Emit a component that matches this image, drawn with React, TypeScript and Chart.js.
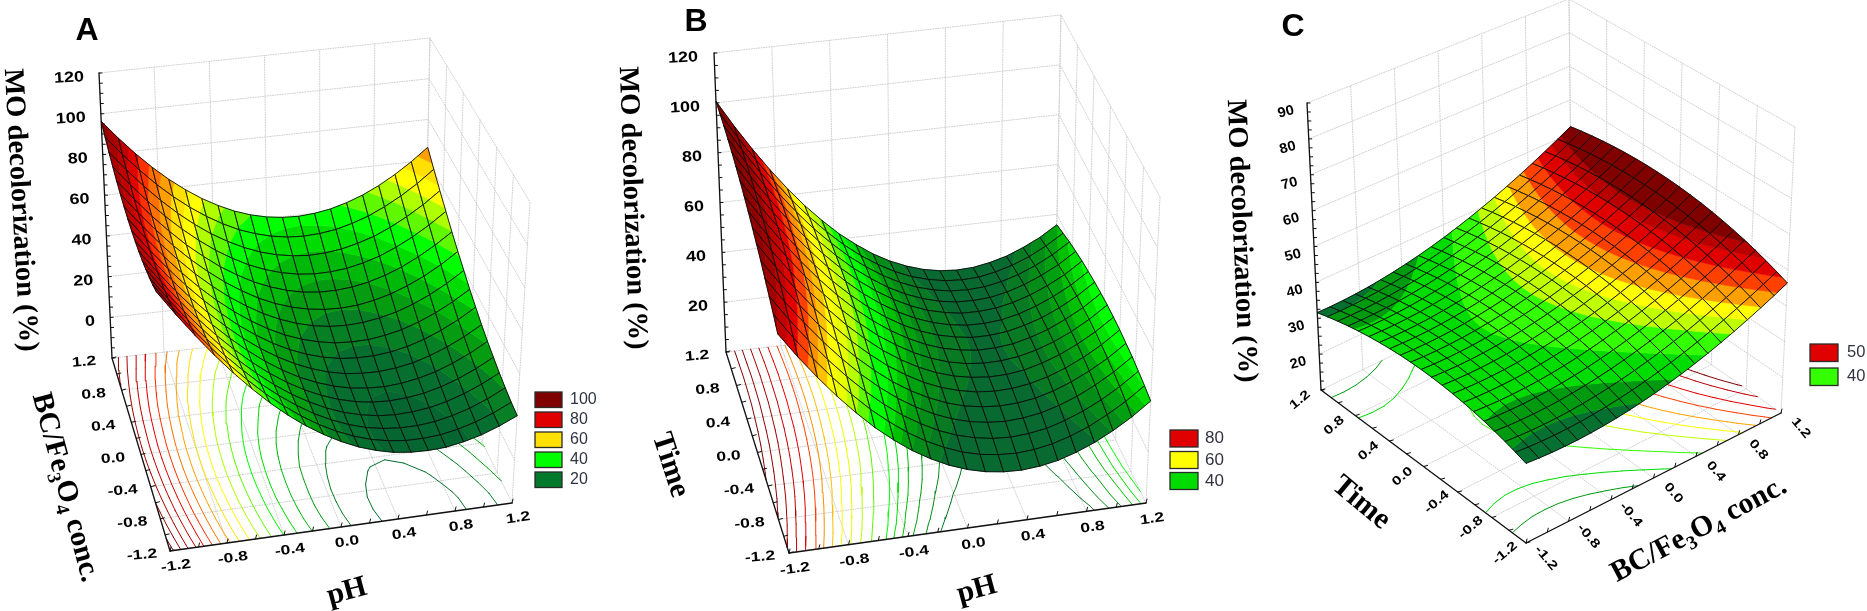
import React, { useEffect, useRef } from "react";
import { Chart, registerables } from "chart.js";

Chart.register(...registerables);

const W = 1867;
const H = 611;

// ---------- data ----------
const xValuesAB = [-1.2, -1.08, -0.96, -0.84, -0.72, -0.6, -0.48, -0.36, -0.24, -0.12, 0, 0.12, 0.24, 0.36, 0.48, 0.6, 0.72, 0.84, 0.96, 1.08, 1.2];
const yValuesAB = [-1.2, -1.04, -0.88, -0.72, -0.56, -0.4, -0.24, -0.08, 0.08, 0.24, 0.4, 0.56, 0.72, 0.88, 1.04, 1.2];
const xValuesC = [-1.2, -1.08, -0.96, -0.84, -0.72, -0.6, -0.48, -0.36, -0.24, -0.12, 0, 0.12, 0.24, 0.36, 0.48, 0.6, 0.72, 0.84, 0.96, 1.08, 1.2];
const yValuesC = [-1.2, -1.08, -0.96, -0.84, -0.72, -0.6, -0.48, -0.36, -0.24, -0.12, 0, 0.12, 0.24, 0.36, 0.48, 0.6, 0.72, 0.84, 0.96, 1.08, 1.2];

const decolorizationA = [
  [99.8, 88.1, 77.3, 67.2, 58, 49.6, 41.9, 35.1, 29.1, 24, 19.6, 16, 13.3, 11.3, 10.3, 10, 10.4, 11.8, 13.9, 16.9, 20.6],
  [97.4, 85.9, 75.2, 65.3, 56.2, 48, 40.5, 33.9, 28, 23, 18.8, 15.4, 12.8, 11.1, 10.1, 10, 10.6, 12.1, 14.4, 17.5, 21.4],
  [95.3, 84, 73.5, 63.7, 54.8, 46.8, 39.4, 33, 27.3, 22.4, 18.4, 15.2, 12.7, 11.2, 10.4, 10.4, 11.2, 12.9, 15.3, 18.6, 22.7],
  [93.6, 82.4, 72, 62.5, 53.7, 45.8, 38.7, 32.3, 26.8, 22.2, 18.3, 15.2, 13, 11.5, 10.9, 11.2, 12.1, 13.9, 16.6, 20, 24.2],
  [92.1, 81.1, 70.9, 61.5, 52.9, 45.2, 38.2, 32, 26.7, 22.2, 18.5, 15.6, 13.5, 12.2, 11.8, 12.2, 13.3, 15.3, 18.1, 21.7, 26.1],
  [90.9, 80.1, 70, 60.8, 52.3, 44.8, 38, 32, 26.8, 22.4, 18.9, 16.2, 14.2, 13.2, 12.8, 13.4, 14.7, 16.8, 19.8, 23.5, 28.1],
  [90.1, 79.4, 69.5, 60.4, 52.2, 44.8, 38.1, 32.3, 27.3, 23.1, 19.7, 17.1, 15.3, 14.5, 14.3, 15, 16.4, 18.8, 21.9, 25.8, 30.5],
  [89.5, 79, 69.3, 60.4, 52.3, 45.1, 38.5, 32.9, 28, 24, 20.8, 18.4, 16.8, 16.1, 16.1, 16.9, 18.5, 21, 24.3, 28.4, 33.3],
  [89.3, 78.9, 69.4, 60.6, 52.7, 45.6, 39.3, 33.8, 29.1, 25.2, 22.2, 20, 18.5, 18, 18.1, 19.2, 20.9, 23.6, 27, 31.3, 36.3],
  [89.4, 79.3, 69.9, 61.3, 53.5, 46.6, 40.4, 35.2, 30.6, 26.9, 24, 21.9, 20.6, 20.2, 20.6, 21.8, 23.7, 26.5, 30.1, 34.5, 39.8],
  [89.8, 79.8, 70.6, 62.1, 54.5, 47.8, 41.8, 36.7, 32.2, 28.7, 26, 24.1, 23, 22.7, 23.2, 24.6, 26.7, 29.7, 33.4, 38, 43.4],
  [90.5, 80.6, 71.5, 63.3, 55.8, 49.3, 43.4, 38.5, 34.2, 30.9, 28.3, 26.5, 25.6, 25.5, 26.2, 27.7, 30, 33.1, 37.1, 41.8, 47.3],
  [91.5, 81.8, 72.9, 64.8, 57.6, 51.2, 45.5, 40.7, 36.6, 33.4, 31, 29.4, 28.6, 28.7, 29.5, 31.2, 33.6, 37, 41.1, 46, 51.7],
  [92.8, 83.3, 74.5, 66.6, 59.5, 53.2, 47.7, 43.1, 39.2, 36.1, 33.9, 32.5, 31.8, 32.1, 33.1, 35, 37.5, 41, 45.3, 50.3, 56.2],
  [94.3, 85, 76.4, 68.6, 61.7, 55.6, 50.3, 45.8, 42, 39.2, 37.1, 35.8, 35.4, 35.8, 36.9, 39, 41.7, 45.4, 49.8, 55, 61.1],
  [96.3, 87.1, 78.7, 71.1, 64.3, 58.4, 53.2, 48.9, 45.3, 42.6, 40.7, 39.6, 39.3, 39.9, 41.2, 43.4, 46.3, 50.1, 54.7, 60.1, 66.3],
];

const decolorizationB = [
  [84, 74.3, 65.5, 57.4, 50.1, 43.5, 37.8, 32.8, 28.7, 25.3, 22.7, 20.9, 19.9, 19.6, 20.2, 21.5, 23.7, 26.6, 30.3, 34.7, 40],
  [86.5, 76.7, 67.8, 59.7, 52.3, 45.6, 39.9, 34.8, 30.6, 27.2, 24.5, 22.6, 21.6, 21.2, 21.7, 23, 25.1, 27.9, 31.6, 35.9, 41.1],
  [88.7, 78.8, 69.9, 61.6, 54.2, 47.5, 41.6, 36.5, 32.3, 28.7, 26, 24.1, 22.9, 22.5, 23, 24.1, 26.2, 29, 32.5, 36.8, 41.9],
  [90.7, 80.8, 71.8, 63.5, 56, 49.2, 43.3, 38.1, 33.8, 30.2, 27.4, 25.4, 24.2, 23.7, 24.1, 25.2, 27.2, 29.9, 33.4, 37.6, 42.7],
  [92.7, 82.7, 73.6, 65.2, 57.7, 50.8, 44.8, 39.5, 35.1, 31.5, 28.6, 26.5, 25.3, 24.7, 25, 26, 27.9, 30.6, 34, 38.1, 43.1],
  [94.3, 84.3, 75.2, 66.7, 59.1, 52.1, 46.1, 40.7, 36.3, 32.5, 29.6, 27.5, 26.1, 25.5, 25.7, 26.7, 28.5, 31.1, 34.4, 38.5, 43.5],
  [95.8, 85.7, 76.5, 68, 60.3, 53.3, 47.2, 41.7, 37.2, 33.4, 30.4, 28.2, 26.8, 26.1, 26.2, 27.1, 28.9, 31.4, 34.7, 38.7, 43.6],
  [97.1, 86.9, 77.7, 69.1, 61.3, 54.2, 48, 42.5, 38, 34.1, 31, 28.7, 27.2, 26.5, 26.6, 27.4, 29.1, 31.5, 34.7, 38.7, 43.5],
  [98.2, 88, 78.6, 70, 62.1, 55, 48.7, 43.2, 38.5, 34.6, 31.4, 29, 27.5, 26.6, 26.7, 27.4, 29.1, 31.4, 34.6, 38.4, 43.2],
  [99.1, 88.8, 79.4, 70.7, 62.7, 55.5, 49.2, 43.6, 38.8, 34.8, 31.6, 29.2, 27.6, 26.6, 26.6, 27.3, 28.9, 31.1, 34.2, 38, 42.7],
  [99.8, 89.4, 79.9, 71.1, 63.2, 55.9, 49.5, 43.8, 39, 34.9, 31.6, 29.1, 27.4, 26.4, 26.3, 26.9, 28.4, 30.7, 33.7, 37.4, 42],
  [100.4, 90, 80.4, 71.5, 63.5, 56.1, 49.6, 43.9, 39, 34.9, 31.5, 28.9, 27.2, 26.1, 26, 26.5, 27.9, 30.1, 33, 36.6, 41.2],
  [100.7, 90.2, 80.5, 71.6, 63.5, 56.1, 49.5, 43.7, 38.8, 34.5, 31.1, 28.5, 26.6, 25.5, 25.3, 25.7, 27.1, 29.2, 32.1, 35.6, 40.1],
  [100.9, 90.3, 80.6, 71.6, 63.4, 55.9, 49.3, 43.4, 38.4, 34.1, 30.6, 27.9, 26, 24.8, 24.5, 24.9, 26.2, 28.2, 31, 34.5, 38.9],
  [100.8, 90.1, 80.4, 71.3, 63, 55.5, 48.8, 42.8, 37.7, 33.4, 29.8, 27, 25.1, 23.8, 23.4, 23.7, 25, 26.9, 29.6, 33.1, 37.4],
  [100.6, 89.9, 80, 70.9, 62.5, 54.9, 48.2, 42.1, 37, 32.5, 28.9, 26.1, 24, 22.7, 22.2, 22.5, 23.7, 25.5, 28.2, 31.5, 35.8],
];

const decolorizationC = [
  [31.24, 30.96, 30.77, 30.71, 30.74, 30.9, 31.16, 31.53, 32.01, 32.6, 33.3, 34.12, 35.03, 36.07, 37.2, 38.46, 39.82, 41.29, 42.87, 44.56, 46.36],
  [32.21, 31.94, 31.77, 31.72, 31.77, 31.94, 32.21, 32.6, 33.09, 33.7, 34.41, 35.24, 36.17, 37.22, 38.37, 39.64, 41.01, 42.5, 44.09, 45.8, 47.61],
  [33.08, 32.83, 32.66, 32.63, 32.69, 32.87, 33.16, 33.56, 34.07, 34.68, 35.41, 36.26, 37.19, 38.26, 39.42, 40.71, 42.09, 43.59, 45.2, 46.91, 48.74],
  [33.85, 33.61, 33.46, 33.44, 33.51, 33.71, 34.02, 34.43, 34.95, 35.58, 36.32, 37.18, 38.13, 39.21, 40.38, 41.69, 43.09, 44.6, 46.22, 47.95, 49.79],
  [34.53, 34.3, 34.17, 34.16, 34.25, 34.46, 34.77, 35.2, 35.73, 36.38, 37.13, 38, 38.97, 40.06, 41.25, 42.56, 43.97, 45.5, 47.13, 48.88, 50.73],
  [35.1, 34.89, 34.76, 34.77, 34.87, 35.09, 35.42, 35.86, 36.41, 37.06, 37.83, 38.72, 39.69, 40.8, 42, 43.33, 44.75, 46.29, 47.94, 49.69, 51.56],
  [35.56, 35.36, 35.25, 35.27, 35.38, 35.62, 35.97, 36.42, 36.98, 37.65, 38.43, 39.33, 40.32, 41.44, 42.65, 44, 45.44, 46.99, 48.65, 50.42, 52.3],
  [35.94, 35.75, 35.66, 35.69, 35.82, 36.07, 36.42, 36.89, 37.46, 38.15, 38.94, 39.85, 40.86, 41.99, 43.22, 44.57, 46.02, 47.59, 49.26, 51.05, 52.94],
  [36.2, 36.03, 35.95, 35.99, 36.13, 36.4, 36.77, 37.25, 37.83, 38.53, 39.34, 40.27, 41.29, 42.43, 43.67, 45.04, 46.51, 48.09, 49.77, 51.57, 53.48],
  [36.37, 36.21, 36.14, 36.2, 36.35, 36.63, 37.02, 37.51, 38.11, 38.82, 39.64, 40.58, 41.61, 42.77, 44.02, 45.41, 46.89, 48.48, 50.18, 51.99, 53.91],
  [36.44, 36.29, 36.24, 36.31, 36.48, 36.77, 37.16, 37.67, 38.28, 39.01, 39.84, 40.79, 41.84, 43.01, 44.28, 45.67, 47.16, 48.77, 50.48, 52.31, 54.24],
  [36.4, 36.27, 36.23, 36.31, 36.49, 36.8, 37.21, 37.73, 38.35, 39.09, 39.94, 40.91, 41.97, 43.15, 44.43, 45.84, 47.35, 48.97, 50.69, 52.53, 54.48],
  [36.27, 36.15, 36.12, 36.22, 36.41, 36.73, 37.16, 37.69, 38.33, 39.08, 39.94, 40.92, 41.99, 43.19, 44.48, 45.91, 47.43, 49.06, 50.8, 52.65, 54.61],
  [36.03, 35.92, 35.91, 36.02, 36.23, 36.56, 37, 37.54, 38.2, 38.96, 39.84, 40.84, 41.92, 43.14, 44.44, 45.88, 47.41, 49.06, 50.81, 52.68, 54.65],
  [35.69, 35.6, 35.6, 35.72, 35.94, 36.29, 36.74, 37.3, 37.96, 38.74, 39.63, 40.64, 41.74, 42.96, 44.28, 45.73, 47.28, 48.94, 50.7, 52.58, 54.57],
  [35.26, 35.18, 35.19, 35.33, 35.56, 35.92, 36.39, 36.96, 37.64, 38.43, 39.33, 40.35, 41.46, 42.7, 44.03, 45.5, 47.06, 48.73, 50.51, 52.4, 54.4],
  [34.72, 34.65, 34.68, 34.83, 35.08, 35.45, 35.93, 36.51, 37.21, 38.01, 38.93, 39.97, 41.09, 42.35, 43.69, 45.17, 46.74, 48.43, 50.22, 52.12, 54.14],
  [34.08, 34.03, 34.07, 34.23, 34.49, 34.88, 35.37, 35.97, 36.67, 37.49, 38.42, 39.47, 40.61, 41.87, 43.23, 44.72, 46.31, 48.01, 49.81, 51.73, 53.76],
  [33.33, 33.29, 33.34, 33.53, 33.8, 34.2, 34.7, 35.31, 36.04, 36.87, 37.81, 38.87, 40.02, 41.31, 42.68, 44.18, 45.78, 47.49, 49.32, 51.25, 53.29],
  [32.5, 32.47, 32.54, 32.73, 33.02, 33.43, 33.95, 34.57, 35.31, 36.15, 37.11, 38.19, 39.35, 40.65, 42.03, 43.55, 45.16, 46.89, 48.72, 50.67, 52.72],
  [31.56, 31.55, 31.63, 31.83, 32.13, 32.56, 33.09, 33.73, 34.47, 35.33, 36.3, 37.39, 38.57, 39.87, 41.27, 42.8, 44.43, 46.17, 48.02, 49.98, 52.05],
];

const axisTicks = [-1.2, -0.8, -0.4, 0, 0.4, 0.8, 1.2];
const axisTickLabels = ["-1.2", "-0.8", "-0.4", "0.0", "0.4", "0.8", "1.2"];
const zTicksA = [0, 20, 40, 60, 80, 100, 120];
const zTicksB = [20, 40, 60, 80, 100, 120];
const zTicksC = [20, 30, 40, 50, 60, 70, 80, 90];

const bandEdgesA = [12.5, 17.5, 22.5, 27.5, 32.5, 37.5, 42.5, 47.5, 52.5, 57.5, 62.5, 67.5, 72.5, 77.5, 82.5, 87.5, 92.5, 97.5];
const bandColorsA = ["#066631", "#066e2e", "#077f24", "#059c12", "#00b80a", "#00dc00", "#00ff00", "#60f800", "#b0ff00", "#ffff00", "#ffe000", "#ffa000", "#ff7000", "#ff3000", "#e00000", "#c00000", "#a80000", "#900000", "#800000"];
const bandEdgesB = [27, 30, 33, 36, 38.5, 41, 46, 50, 54, 58, 62, 66, 70, 75, 80, 85, 90, 95];
const bandColorsB = ["#086a30", "#087a24", "#058c18", "#00a010", "#00c000", "#00e000", "#00ff00", "#60f800", "#b8ff00", "#e8ff00", "#ffff00", "#ffc000", "#ff9000", "#ff4000", "#e00000", "#c00000", "#a00000", "#900000", "#800000"];
const bandEdgesC = [32.5, 34.5, 37, 39.5, 41.3, 43, 45, 47, 49, 50.5];
const bandColorsC = ["#067030", "#009a10", "#00dc00", "#33ff00", "#c0ff00", "#ffff00", "#ffa000", "#ff4000", "#e00000", "#b80000", "#800000"];

const legendLabelsA = ["100", "80", "60", "40", "20"];
const legendColorsA = ["#800000", "#e00000", "#ffe000", "#00ff00", "#007a2a"];
const legendLabelsB = ["80", "60", "40"];
const legendColorsB = ["#e00000", "#ffff00", "#00dc00"];
const legendLabelsC = ["50", "40"];
const legendColorsC = ["#e00000", "#33ff00"];

// ---------- layout ----------
type P = { x: number; y: number };
type Box = { f: number[][]; t: number[][]; zMin: number; zMax: number };

const panels = [
  {
    letter: "A", letterPos: [87, 31],
    xs: xValuesAB, ys: yValuesAB, zs: decolorizationA, edges: bandEdgesA, colors: bandColorsA,
    zTicks: zTicksA, zStep: 5, depth: [0, 1],
    box: { f: [[170, 551], [512, 503], [112, 358], [424, 323]], t: [[154, 248], [530, 202], [99, 73], [430, 38]], zMin: -20, zMax: 120 } as Box,
    xLab: { dx: 6, dy: 15, rot: -8 }, yLab: { dx: -28, dy: 4, rot: -5 }, zLab: { dx: -15, dy: 4, rot: -3, align: "right" as CanvasTextAlign },
    zTitle: { x: 20, y: 210, rot: 86.8 },
    yTitle: { x: 67, y: 487, rot: 75, runs: true }, xTitle: { text: "pH", x: 347, y: 592, rot: -15 },
    legend: { x: 535, w: 27, ys: [392, 412, 432, 452, 472], h: 15.5, labelX: 570, size: 16, labels: legendLabelsA, colors: legendColorsA },
  },
  {
    letter: "B", letterPos: [696, 22],
    xs: xValuesAB, ys: yValuesAB, zs: decolorizationB, edges: bandEdgesB, colors: bandColorsB,
    zTicks: zTicksB, zStep: 5, depth: [0, 1],
    box: { f: [[789, 553], [1146, 503], [726, 352], [1055, 314]], t: [[773, 240], [1160, 197], [714, 53], [1061, 15]], zMin: 0, zMax: 120 } as Box,
    xLab: { dx: 6, dy: 16, rot: -8 }, yLab: { dx: -29, dy: 4, rot: -5 }, zLab: { dx: -16, dy: 4, rot: -3, align: "right" as CanvasTextAlign },
    zTitle: { x: 632, y: 208, rot: 88 },
    yTitle: { text: "Time", x: 670, y: 465, rot: 72 }, xTitle: { text: "pH", x: 977, y: 590, rot: -15 },
    legend: { x: 1170, w: 28, ys: [430, 451.5, 472.5], h: 17, labelX: 1205, size: 17, labels: legendLabelsB, colors: legendColorsB },
  },
  {
    letter: "C", letterPos: [1293, 27],
    xs: xValuesC, ys: yValuesC, zs: decolorizationC, edges: bandEdgesC, colors: bandColorsC,
    zTicks: zTicksC, zStep: 2.5, depth: [1, 1],
    box: { f: [[1526, 543], [1781, 413], [1321, 390], [1572, 268]], t: [[1526, 243], [1795, 127], [1307, 103], [1569, -1]], zMin: 10, zMax: 90 } as Box,
    xLab: { dx: 20, dy: 15, rot: 50 }, yLab: { dx: -21, dy: 10, rot: -40 }, zLab: { dx: -21, dy: 9, rot: -15, align: "center" as CanvasTextAlign },
    zTitle: { x: 1241, y: 241, rot: 87.6 },
    yTitle: { text: "Time", x: 1361, y: 503, rot: 40 }, xTitle: { x: 1698, y: 528, rot: -28, runs: true },
    legend: { x: 1810, w: 28, ys: [344, 368], h: 17.5, labelX: 1847, size: 16.5, labels: legendLabelsC, colors: legendColorsC },
  },
];

// ---------- projection ----------
function project(box: Box, x: number, y: number, z: number): P {
  const u = (x + 1.2) / 2.4;
  const v = (y + 1.2) / 2.4;
  const w = (z - box.zMin) / (box.zMax - box.zMin);
  const bil = (c: number[][], k: number) =>
    (1 - v) * ((1 - u) * c[0][k] + u * c[1][k]) + v * ((1 - u) * c[2][k] + u * c[3][k]);
  return {
    x: (1 - w) * bil(box.f, 0) + w * bil(box.t, 0),
    y: (1 - w) * bil(box.f, 1) + w * bil(box.t, 1),
  };
}

type V = { x: number; y: number; z: number };
function clipHalf(poly: V[], z0: number, above: boolean): V[] {
  const out: V[] = [];
  for (let i = 0; i < poly.length; i++) {
    const a = poly[i];
    const b = poly[(i + 1) % poly.length];
    const ain = above ? a.z >= z0 : a.z <= z0;
    const bin = above ? b.z >= z0 : b.z <= z0;
    if (ain) out.push(a);
    if (ain !== bin) {
      const t = (z0 - a.z) / (b.z - a.z);
      out.push({ x: a.x + t * (b.x - a.x), y: a.y + t * (b.y - a.y), z: z0 });
    }
  }
  return out;
}

const GAP = { x: NaN, y: NaN };

function lineDs(data: P[], color: string, width: number, dash: number[] = []) {
  return {
    data, borderColor: color, borderWidth: width, borderDash: dash, fill: false,
    pointRadius: 0, tension: 0, spanGaps: false, clip: false, borderCapStyle: "round" as const, borderJoinStyle: "round" as const,
  };
}

function buildDatasets() {
  const all: any[] = [];
  for (const p of panels) {
    const { box, xs, ys, zs, edges, colors } = p;
    // walls + floor grid
    const gridColor = "#cfcfcf";
    const dash = [1, 1.5];
    for (const t of axisTicks) {
      all.push(lineDs([project(box, t, -1.2, box.zMin), project(box, t, 1.2, box.zMin)], gridColor, 1, dash));
      all.push(lineDs([project(box, -1.2, t, box.zMin), project(box, 1.2, t, box.zMin)], gridColor, 1, dash));
      all.push(lineDs([project(box, t, 1.2, box.zMin), project(box, t, 1.2, box.zMax)], gridColor, 1, dash));
      all.push(lineDs([project(box, 1.2, t, box.zMin), project(box, 1.2, t, box.zMax)], gridColor, 1, dash));
    }
    for (const z of p.zTicks) {
      all.push(lineDs([project(box, -1.2, 1.2, z), project(box, 1.2, 1.2, z), project(box, 1.2, -1.2, z)], gridColor, 1, dash));
    }
    // contours on the floor
    edges.forEach((level, k) => {
      const pts: P[] = [];
      for (let j = 0; j < ys.length - 1; j++) {
        for (let i = 0; i < xs.length - 1; i++) {
          const c = [
            [xs[i], ys[j], zs[j][i]], [xs[i + 1], ys[j], zs[j][i + 1]],
            [xs[i + 1], ys[j + 1], zs[j + 1][i + 1]], [xs[i], ys[j + 1], zs[j + 1][i]],
          ];
          const hits: P[] = [];
          for (let e = 0; e < 4; e++) {
            const a = c[e];
            const b = c[(e + 1) % 4];
            if ((a[2] < level) !== (b[2] < level)) {
              const t = (level - a[2]) / (b[2] - a[2]);
              hits.push(project(box, a[0] + t * (b[0] - a[0]), a[1] + t * (b[1] - a[1]), box.zMin));
            }
          }
          if (hits.length >= 2) pts.push(hits[0], hits[1], GAP);
        }
      }
      if (pts.length) all.push(lineDs(pts, colors[k + 1], 1));
    });
    // axes
    const axes: P[][] = [
      [project(box, -1.2, -1.2, box.zMin), project(box, 1.2, -1.2, box.zMin)],
      [project(box, -1.2, -1.2, box.zMin), project(box, -1.2, 1.2, box.zMin)],
      [project(box, -1.2, 1.2, box.zMin), project(box, -1.2, 1.2, box.zMax)],
    ];
    for (const a of axes) all.push(lineDs(a, "#111", 1.3));
    const ticks: P[] = [];
    for (let t = -1.2; t < 1.21; t += 0.2) {
      const a = project(box, t, -1.2, box.zMin);
      ticks.push(a, { x: a.x + 1, y: a.y - 4 }, GAP);
      const b = project(box, -1.2, t, box.zMin);
      ticks.push(b, { x: b.x + 4, y: b.y - 1 }, GAP);
    }
    for (let z = box.zMin; z <= box.zMax + 0.01; z += p.zStep) {
      const a = project(box, -1.2, 1.2, z);
      ticks.push(a, { x: a.x + 3, y: a.y }, GAP);
    }
    all.push(lineDs(ticks, "#111", 1));
    // surface cells, back to front
    const cells: { i: number; j: number; d: number }[] = [];
    for (let j = 0; j < ys.length - 1; j++)
      for (let i = 0; i < xs.length - 1; i++)
        cells.push({ i, j, d: p.depth[0] * (xs[i] + 1.2) + p.depth[1] * (ys[j] + 1.2) });
    cells.sort((a, b) => b.d - a.d);
    for (const { i, j } of cells) {
      const quad: V[] = [
        { x: xs[i], y: ys[j], z: zs[j][i] },
        { x: xs[i + 1], y: ys[j], z: zs[j][i + 1] },
        { x: xs[i + 1], y: ys[j + 1], z: zs[j + 1][i + 1] },
        { x: xs[i], y: ys[j + 1], z: zs[j + 1][i] },
      ];
      const zmin = Math.min(...quad.map((q) => q.z));
      const zmax = Math.max(...quad.map((q) => q.z));
      colors.forEach((col, k) => {
        const lo = k === 0 ? -Infinity : edges[k - 1];
        const hi = k === edges.length ? Infinity : edges[k];
        if (zmax < lo || zmin > hi) return;
        let poly = quad;
        if (lo > -Infinity) poly = clipHalf(poly, lo, true);
        if (hi < Infinity && poly.length) poly = clipHalf(poly, hi, false);
        if (poly.length < 3) return;
        const pts = poly.map((q) => project(box, q.x, q.y, q.z));
        pts.push(pts[0]);
        all.push({
          data: pts, borderColor: col, backgroundColor: col, borderWidth: 0.6, fill: "shape",
          pointRadius: 0, tension: 0, clip: false,
        });
      });
      const outline = quad.map((q) => project(box, q.x, q.y, q.z));
      outline.push(outline[0]);
      all.push(lineDs(outline, "#0a0a0a", 0.9));
    }
  }
  // Chart.js paints the last dataset first
  return all.reverse();
}

// ---------- text ----------
function put(
  ctx: CanvasRenderingContext2D, s: string, x: number, y: number, font: string, rot = 0,
  align: CanvasTextAlign = "center", sx = 1, color = "#000",
) {
  ctx.save();
  ctx.translate(x, y);
  ctx.rotate((rot * Math.PI) / 180);
  ctx.scale(sx, 1);
  ctx.font = font;
  ctx.textAlign = align;
  ctx.textBaseline = "middle";
  ctx.fillStyle = color;
  ctx.fillText(s, 0, 0);
  ctx.restore();
}

function formula(ctx: CanvasRenderingContext2D, x: number, y: number, rot: number, size: number) {
  const main = `bold ${size}px "Liberation Serif"`;
  const sub = `bold ${size * 0.65}px "Liberation Serif"`;
  const runs: [string, boolean][] = [["BC/Fe", false], ["3", true], ["O", false], ["4", true], [" conc.", false]];
  let total = 0;
  const ws = runs.map(([s, b]) => {
    ctx.font = b ? sub : main;
    const w = ctx.measureText(s).width;
    total += w;
    return w;
  });
  ctx.save();
  ctx.translate(x, y);
  ctx.rotate((rot * Math.PI) / 180);
  ctx.fillStyle = "#000";
  ctx.textAlign = "left";
  ctx.textBaseline = "alphabetic";
  let cx = -total / 2;
  runs.forEach(([s, b], i) => {
    ctx.font = b ? sub : main;
    ctx.fillText(s, cx, size * 0.33 + (b ? size * 0.22 : 0));
    cx += ws[i];
  });
  ctx.restore();
}

const textPlugin = {
  id: "panelText",
  afterDraw(chart: Chart) {
    const ctx = chart.ctx;
    for (const p of panels) {
      const box = p.box;
      put(ctx, p.letter, p.letterPos[0], p.letterPos[1], 'bold 32px "Liberation Sans"');
      const isC = p.letter === "C";
      const tickFont = isC ? 'bold 12.5px "Liberation Sans"' : 'bold 13.5px "Liberation Sans"';
      axisTicks.forEach((t, i) => {
        const a = project(box, t, -1.2, box.zMin);
        put(ctx, axisTickLabels[i], a.x + p.xLab.dx, a.y + p.xLab.dy, tickFont, p.xLab.rot, "center", 1.3);
        const b = project(box, -1.2, t, box.zMin);
        put(ctx, axisTickLabels[i], b.x + p.yLab.dx, b.y + p.yLab.dy, tickFont, p.yLab.rot, "center", 1.3);
      });
      for (const z of p.zTicks) {
        const a = project(box, -1.2, 1.2, z);
        put(ctx, String(z), a.x + p.zLab.dx, a.y + p.zLab.dy, isC ? 'bold 14px "Liberation Sans"' : 'bold 15px "Liberation Sans"', p.zLab.rot, p.zLab.align, isC ? 1.05 : 1.2);
      }
      const serif = 'bold 28.5px "Liberation Serif"';
      put(ctx, "MO decolorization (%)", p.zTitle.x, p.zTitle.y, serif, p.zTitle.rot);
      for (const t of [p.xTitle, p.yTitle] as any[]) {
        if (t.runs) formula(ctx, t.x, t.y, t.rot, 29.5);
        else put(ctx, t.text, t.x, t.y, 'bold 30px "Liberation Serif"', t.rot);
      }
      const l = p.legend;
      l.labels.forEach((lab, i) => {
        ctx.fillStyle = l.colors[i];
        ctx.fillRect(l.x, l.ys[i], l.w, l.h);
        ctx.strokeStyle = "#2a2a2a";
        ctx.lineWidth = 1.3;
        ctx.strokeRect(l.x, l.ys[i], l.w, l.h);
        put(ctx, lab, l.labelX, l.ys[i] + l.h / 2, `${l.size}px "Liberation Sans"`, 0, "left", 1, "#2f3440");
      });
    }
  },
};

export default function App() {
  const ref = useRef<HTMLCanvasElement>(null);
  useEffect(() => {
    const chart = new Chart(ref.current as HTMLCanvasElement, {
      type: "line",
      data: { datasets: buildDatasets() },
      options: {
        animation: false,
        responsive: false,
        devicePixelRatio: 1,
        events: [],
        layout: { padding: 0 },
        scales: {
          x: { type: "linear", min: 0, max: W, display: false },
          y: { type: "linear", min: 0, max: H, reverse: true, display: false },
        },
        plugins: { legend: { display: false }, tooltip: { enabled: false }, title: { display: false } },
      },
      plugins: [textPlugin],
    } as any);
    return () => chart.destroy();
  }, []);
  return (
    <div style={{ position: "absolute", left: 0, top: 0, width: W, height: H, background: "#fff" }}>
      <canvas ref={ref} width={W} height={H} style={{ display: "block" }} />
    </div>
  );
}
